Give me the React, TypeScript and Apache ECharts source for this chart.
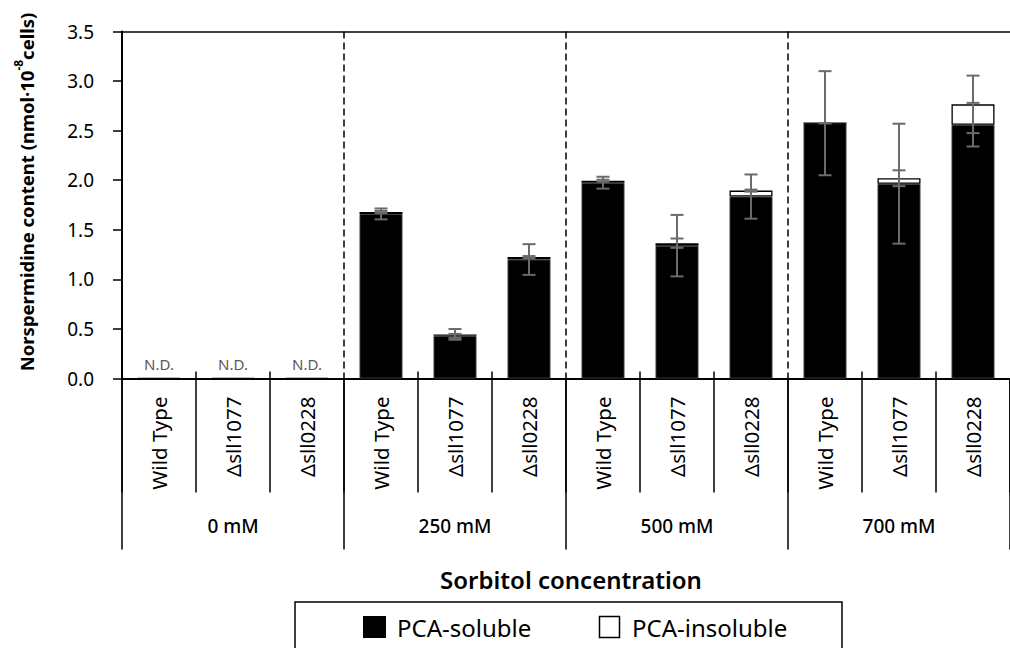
import React, { useEffect, useRef } from "react";
import * as echarts from "echarts";

const categories = [
  "Wild Type", "Δsll1077", "Δsll0228",
  "Wild Type", "Δsll1077", "Δsll0228",
  "Wild Type", "Δsll1077", "Δsll0228",
  "Wild Type", "Δsll1077", "Δsll0228",
];
const groups = ["0 mM", "250 mM", "500 mM", "700 mM"];
const solubleValues = [0, 0, 0, 1.66, 0.43, 1.2, 1.975, 1.34, 1.835, 2.575, 1.965, 2.56];
const insolubleValues = [0, 0, 0, 0.02, 0.015, 0.025, 0.02, 0.025, 0.06, 0, 0.055, 0.205];
const solubleErrors = [0, 0, 0, 0.055, 0.02, 0.155, 0.06, 0.31, 0.223, 0.525, 0.605, 0.22];
const insolubleErrors = [0, 0, 0, 0.01, 0.054, 0.01, 0.01, 0.047, 0.01, 0, 0.08, 0.29];
const yMin = 0;
const yMax = 3.5;
const yInterval = 0.5;
const perGroup = 3;

const FONT = "Noto Sans";

export default function App() {
  const ref = useRef<HTMLDivElement>(null);

  useEffect(() => {
    if (!ref.current) return;
    document.body.style.margin = "0";
    const chart = echarts.init(ref.current, null, { renderer: "svg" });

    const solErrData = categories
      .map((_, i) => [i, solubleValues[i] - solubleErrors[i], solubleValues[i] + solubleErrors[i]])
      .filter((d) => solubleValues[d[0]] > 0);
    const insErrData = categories
      .map((_, i) => {
        const top = solubleValues[i] + insolubleValues[i];
        return [i, top - insolubleErrors[i], top + insolubleErrors[i]];
      })
      .filter((d) => solubleValues[d[0]] > 0);
    const boundaries = categories.map((_, i) => [i, 0]).slice(1);

    const errRender = (params: any, api: any) => {
      const idx = api.value(0);
      const lo = api.coord([idx, api.value(1)]);
      const hi = api.coord([idx, api.value(2)]);
      const x = lo[0];
      const cap = 6.5;
      const style = { stroke: "#6b6b6b", lineWidth: 2 };
      return {
        type: "group",
        children: [
          { type: "line", shape: { x1: x, y1: lo[1], x2: x, y2: hi[1] }, style },
          { type: "line", shape: { x1: x - cap, y1: lo[1], x2: x + cap, y2: lo[1] }, style },
          { type: "line", shape: { x1: x - cap, y1: hi[1], x2: x + cap, y2: hi[1] }, style },
        ],
      };
    };

    const sepRender = (params: any, api: any) => {
      const idx = api.value(0);
      const base = api.coord([idx, yMin]);
      const w = api.size([1, 0])[0];
      const x = base[0] - w / 2;
      if (idx % perGroup === 0) {
        const top = api.coord([idx, yMax]);
        return {
          type: "line",
          shape: { x1: x, y1: top[1], x2: x, y2: base[1] },
          style: { stroke: "#000", lineWidth: 1.5, lineDash: [7, 4] },
        };
      }
      return {
        type: "line",
        shape: { x1: x, y1: base[1] - 7, x2: x, y2: base[1] },
        style: { stroke: "#000", lineWidth: 1.5 },
      };
    };

    const option: any = {
      animation: false,
      backgroundColor: "#fff",
      textStyle: { fontFamily: FONT },
      grid: { left: 122, right: -12, top: 31.5, bottom: 269.5, containLabel: false },
      xAxis: [
        {
          type: "category",
          data: categories,
          position: "bottom",
          axisLine: { show: true, lineStyle: { color: "#000", width: 2 } },
          axisTick: { show: true, alignWithLabel: false, length: 114, lineStyle: { color: "#000", width: 1.5 } },
          axisLabel: { interval: 0, rotate: 90, margin: 18, fontSize: 20.5, color: "#000", fontFamily: FONT },
          splitLine: { show: false },
        },
        {
          type: "category",
          data: groups,
          position: "bottom",
          axisLine: { show: false },
          axisTick: { show: true, length: 171, lineStyle: { color: "#000", width: 1.5 } },
          axisLabel: { interval: 0, margin: 138, fontSize: 19, color: "#000", fontFamily: FONT, fontWeight: 500 },
          splitLine: { show: false },
        },
        {
          type: "category",
          data: [""],
          position: "top",
          axisLine: { show: true, lineStyle: { color: "#000", width: 1.5 } },
          axisTick: { show: false },
          axisLabel: { show: false },
          splitLine: { show: false },
        },
      ],
      yAxis: {
        type: "value",
        min: yMin,
        max: yMax,
        interval: yInterval,
        axisLine: { show: true, lineStyle: { color: "#000", width: 2 } },
        axisTick: { show: true, inside: false, length: 9, lineStyle: { color: "#000", width: 1.5 } },
        axisLabel: {
          margin: 28,
          fontSize: 19,
          color: "#000",
          fontFamily: FONT,
          formatter: (v: number) => v.toFixed(1),
        },
        splitLine: { show: false },
      },
      series: [
        {
          name: "PCA-soluble",
          type: "bar",
          stack: "total",
          xAxisIndex: 0,
          barWidth: 43,
          data: solubleValues,
          z: 2,
          itemStyle: { color: "#000", borderColor: "#3a3a3a", borderWidth: 1 },
          label: {
            show: true,
            position: "top",
            distance: 7,
            fontSize: 15,
            color: "#595959",
            fontFamily: FONT,
            formatter: (p: any) => (p.value === 0 ? "N.D." : ""),
          },
        },
        {
          name: "PCA-insoluble",
          type: "bar",
          stack: "total",
          xAxisIndex: 0,
          barWidth: 43,
          data: insolubleValues,
          z: 2,
          itemStyle: { color: "#fff", borderColor: "#000", borderWidth: 1.3 },
        },
        {
          name: "separators",
          type: "custom",
          xAxisIndex: 0,
          data: boundaries,
          renderItem: sepRender,
          z: 1,
          silent: true,
        },
        {
          name: "soluble error",
          type: "custom",
          xAxisIndex: 0,
          data: solErrData,
          renderItem: errRender,
          z: 4,
        },
        {
          name: "insoluble error",
          type: "custom",
          xAxisIndex: 0,
          data: insErrData,
          renderItem: errRender,
          z: 4,
        },
      ],
      graphic: [
        {
          type: "text",
          x: 24,
          y: 192,
          rotation: Math.PI / 2,
          style: {
            text: "{a|Norspermidine content (nmol·10}{s|-8}{a|cells)}",
            align: "center",
            verticalAlign: "middle",
            rich: {
              a: { fontSize: 18.5, fontWeight: "bold", fontFamily: FONT, fill: "#000", lineHeight: 24, verticalAlign: "bottom" },
              s: { fontSize: 12, fontWeight: "bold", fontFamily: FONT, fill: "#000", lineHeight: 24, verticalAlign: "top", padding: [0, 0, 9, 0] },
            },
          },
        },
        {
          type: "text",
          x: 571,
          y: 579,
          style: {
            text: "Sorbitol concentration",
            align: "center",
            verticalAlign: "middle",
            fontSize: 24,
            fontWeight: 600,
            fontFamily: FONT,
            fill: "#000",
          },
        },
        {
          type: "rect",
          shape: { x: 295, y: 602, width: 547, height: 60 },
          style: { fill: "#fff", stroke: "#000", lineWidth: 1.5 },
        },
        {
          type: "rect",
          shape: { x: 363, y: 616, width: 23, height: 22 },
          style: { fill: "#000" },
        },
        {
          type: "text",
          x: 397,
          y: 627,
          style: { text: "PCA-soluble", verticalAlign: "middle", fontSize: 24, fontFamily: FONT, fill: "#000" },
        },
        {
          type: "rect",
          shape: { x: 599.5, y: 616.5, width: 20, height: 21 },
          style: { fill: "#fff", stroke: "#000", lineWidth: 1.5 },
        },
        {
          type: "text",
          x: 632,
          y: 627,
          style: { text: "PCA-insoluble", verticalAlign: "middle", fontSize: 24, fontFamily: FONT, fill: "#000" },
        },
      ],
    };

    chart.setOption(option);
    return () => chart.dispose();
  }, []);

  return (
    <div
      ref={ref}
      style={{ position: "absolute", left: 0, top: 0, width: 1010, height: 648, background: "#fff" }}
    />
  );
}
